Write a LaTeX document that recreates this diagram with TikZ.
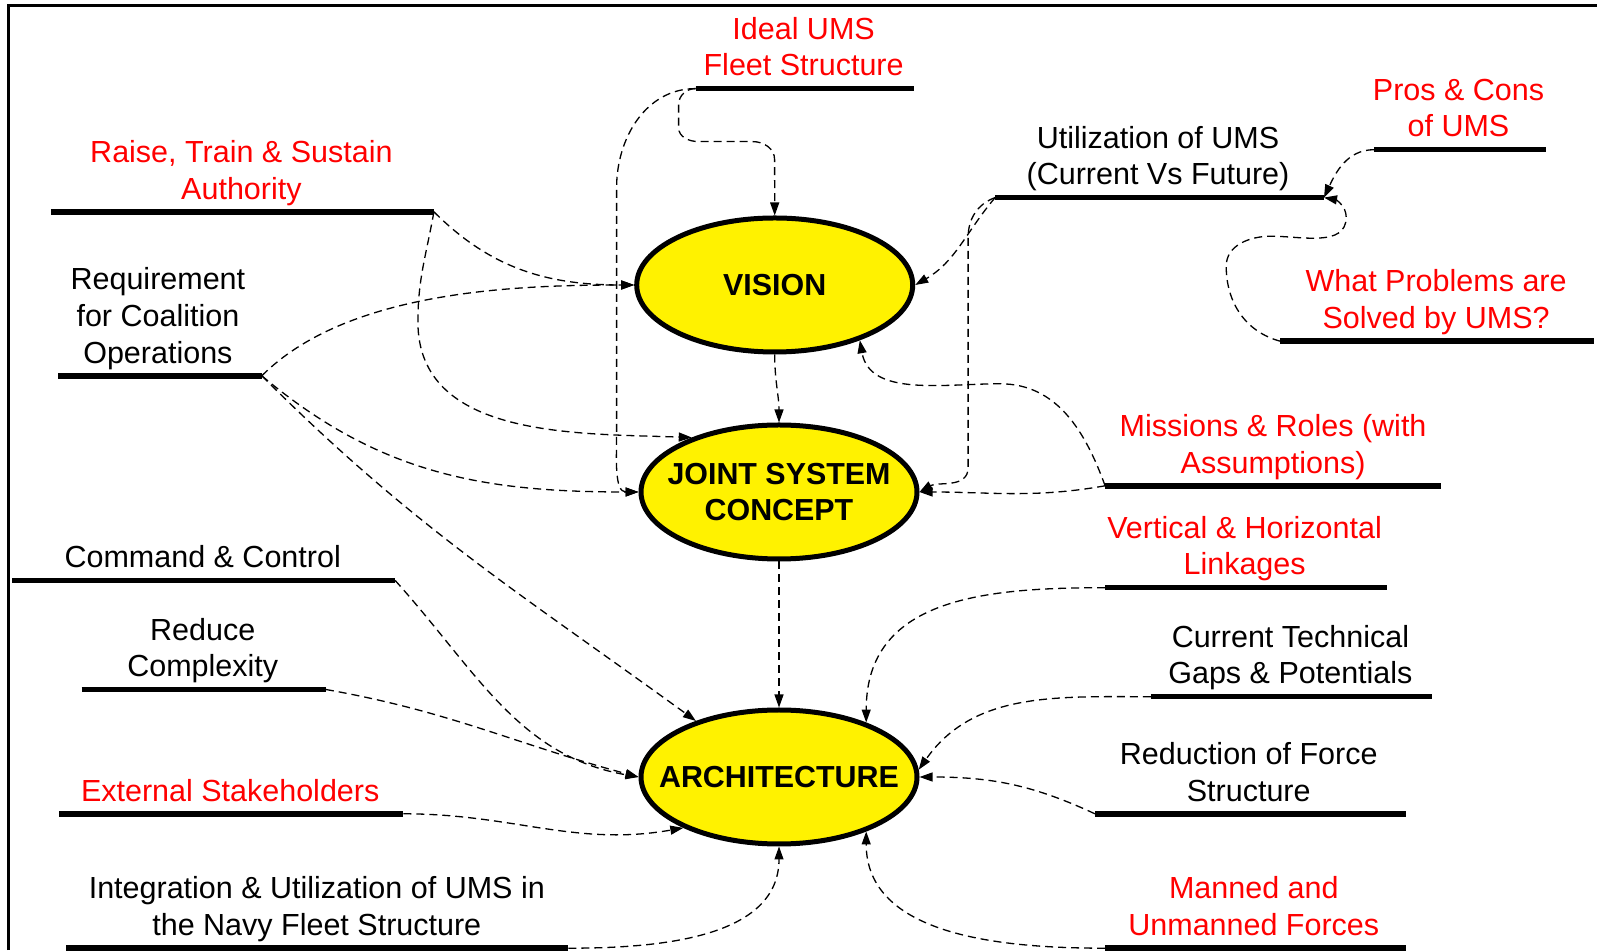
\documentclass[tikz,border=0pt]{standalone}
\usepackage{fontspec}
\setmainfont{Liberation Sans}
\usetikzlibrary{shapes.geometric, arrows.meta}

\tikzset{
  hub/.style={ellipse, draw=black, line width=5pt, fill=yellow, minimum width=276pt, minimum height=134pt,
    inner xsep=-30pt, inner ysep=0pt, align=center, font=\fontsize{30.4}{36.7}\selectfont\bfseries},
  topic/.style={anchor=south, inner sep=0pt, text depth=0pt, align=center, font=\fontsize{30.5}{36.7}\selectfont},
  bar/.style={line width=5.5pt},
  link/.style={line width=1.3pt, dash pattern=on 8pt off 5pt, -{Triangle[length=13pt,width=9pt]}},
}

\begin{document}
\begin{tikzpicture}[x=1pt, y=1pt]
  \useasboundingbox (0,0) rectangle (1597,950);
  \draw[line width=2.5pt] (8.7,0) -- (8.7,944.3) -- (1597,944.3);

  \node[hub] (vision) at (774.7,665) {VISION};
  \node[hub] (jsc) at (779,458) {JOINT SYSTEM\\CONCEPT};
  \node[hub] (arch) at (779,173) {ARCHITECTURE};

  % topics with their bars
  \coordinate (ideal-l) at (695.6,861.4); \coordinate (ideal-r) at (913.6,861.4);
  \coordinate (raise-l) at (50.9,738.2);  \coordinate (raise-r) at (433.9,738.2);
  \coordinate (req-l) at (58.1,574.2);    \coordinate (req-r) at (261.8,574.2);
  \coordinate (util-l) at (995.1,752.4);  \coordinate (util-r) at (1324,752.4);
  \coordinate (pros-l) at (1374,800.3);   \coordinate (pros-r) at (1546.1,800.3);
  \coordinate (what-l) at (1280.2,608.8); \coordinate (what-r) at (1594,608.8);
  \coordinate (miss-l) at (1105.1,464.2); \coordinate (miss-r) at (1441.2,464.2);
  \coordinate (vert-l) at (1105.1,362.3); \coordinate (vert-r) at (1387.2,362.3);
  \coordinate (cur-l) at (1150.9,253.3);  \coordinate (cur-r) at (1432,253.3);
  \coordinate (redf-l) at (1094.9,136.2); \coordinate (redf-r) at (1405.5,136.2);
  \coordinate (man-l) at (1105.1,1.8);    \coordinate (man-r) at (1405.5,1.8);
  \coordinate (cmd-l) at (12.2,369.5);    \coordinate (cmd-r) at (395.2,369.5);
  \coordinate (rdc-l) at (81.5,260.5);    \coordinate (rdc-r) at (325.9,260.5);
  \coordinate (ext-l) at (59.1,136.2);    \coordinate (ext-r) at (403.3,136.2);
  \coordinate (integ-l) at (66.2,1.8);    \coordinate (integ-r) at (568.3,1.8);

  \foreach \t in {ideal,raise,req,util,pros,what,miss,vert,cur,redf,man,cmd,rdc,ext,integ}
    \draw[bar] (\t-l) -- (\t-r);

  \node[topic, text=red] (ideal) at (803.6,873.9) {Ideal UMS\\Fleet Structure};
  \node[topic, text=red] (raise) at (241.4,750.7) {Raise, Train \& Sustain\\Authority};
  \node[topic] (req) at (157.9,586.7) {Requirement\\for Coalition\\Operations};
  \node[topic] (util) at (1158,764.9) {Utilization of UMS\\(Current Vs Future)};
  \node[topic, text=red] (pros) at (1458.5,812.8) {Pros \& Cons\\of UMS};
  \node[topic, text=red] (what) at (1436.1,621.3) {What Problems are\\Solved by UMS?};
  \node[topic, text=red] (miss) at (1273.1,476.7) {Missions \& Roles (with\\Assumptions)};
  \node[topic, text=red] (vert) at (1244.6,374.8) {Vertical \& Horizontal\\Linkages};
  \node[topic] (cur) at (1290.4,265.8) {Current Technical\\Gaps \& Potentials};
  \node[topic] (redf) at (1248.7,148.7) {Reduction of Force\\Structure};
  \node[topic, text=red] (man) at (1253.8,14.3) {Manned and\\Unmanned Forces};
  \node[topic] (cmd) at (202.7,382) {Command \& Control};
  \node[topic] (rdc) at (202.7,273) {Reduce\\Complexity};
  \node[topic, text=red] (ext) at (230.2,148.7) {External Stakeholders};
  \node[topic] (integ) at (316.8,14.3) {Integration \& Utilization of UMS in\\the Navy Fleet Structure};

  % links
  \draw[link] (ideal-l) to[out=180,in=90] ++(-17,-16) -- ++(0,-23) to[out=-90,in=180] ++(20,-14) -- ++(54,0)
    to[out=0,in=90] ++(22,-18) -- (vision.north);
  \draw[link] (ideal-l) to[out=180,in=90] ++(-79,-99) -- ++(0,-246) to[out=-90,in=180] (jsc.west);
  \draw[link] (raise-r) to[out=-45,in=180] (vision.west);
  \draw[link] (raise-r) to[out=-100,in=90] ++(-16,-110) to[out=-90,in=178] (jsc.148);
  \draw[link] (req-r) to[out=45,in=180,looseness=0.8] (vision.west);
  \draw[link] (req-r) to[out=-40,in=180] (jsc.west);
  \draw[link] (req-r) to[out=-45,in=144] (arch.146);
  \draw[link] (util-l) to[out=-130,in=30] (vision.east);
  \draw[link] (util-l) to[out=-160,in=90] ++(-27,-40) -- ++(0,-230) to[out=-90,in=30] (jsc.east);
  \draw[link] (pros-l) to[out=180,in=65] (util-r);
  \draw[link] (what-l) to[out=165,in=-90] ++(-54,75) to[out=90,in=180] ++(45,30) to[out=0,in=-90] ++(75,19)
    to[out=90,in=-10] (util-r);
  \draw[link] (miss-l) to[out=190,in=0] (jsc.east);
  \draw[link] (miss-l) to[out=110,in=0] ++(-105,102) to[out=180,in=-80] (vision.-33);
  \draw[link] (vert-l) to[out=180,in=90,looseness=1.15] (arch.32);
  \draw[link] (cur-l) to[out=180,in=55] (arch.3);
  \draw[link] (redf-l) to[out=155,in=0] (arch.east);
  \draw[link] (man-l) to[out=180,in=-90] (arch.-32);
  \draw[link] (cmd-r) to[out=-48,in=170] (arch.west);
  \draw[link] (rdc-r) to[out=-10,in=165] (arch.west);
  \draw[link] (ext-r) to[out=0,in=190] (arch.208);
  \draw[link] (integ-r) to[out=0,in=-90] (arch.south);
  \draw[link] (vision.south) to[out=-90,in=90] (jsc.north);
  \draw[link] (jsc.south) -- (arch.north);
\end{tikzpicture}
\end{document}
